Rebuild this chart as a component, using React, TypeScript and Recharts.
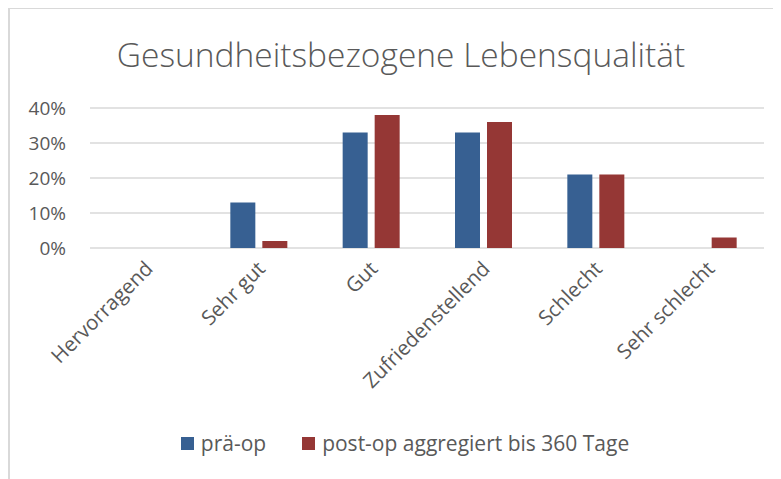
import React from 'react';
import { BarChart, Bar, XAxis, YAxis, CartesianGrid, Legend } from 'recharts';

const categories = ['Hervorragend', 'Sehr gut', 'Gut', 'Zufriedenstellend', 'Schlecht', 'Sehr schlecht'];
const praeOp = [0, 13, 33, 33, 21, 0];
const postOp = [0, 2, 38, 36, 21, 3];
const yTicks = [0, 10, 20, 30, 40];

const seriesNames = ['prä-op', 'post-op aggregiert bis 360 Tage'];
const colors = ['#376092', '#953735'];

const data = categories.map((name, i) => ({
  name,
  pre: praeOp[i],
  post: postOp[i],
}));

const font = '"Open Sans", "Liberation Sans", sans-serif';
const textColor = '#595959';

const XTick = (props: any) => {
  const { x, y, payload } = props;
  return (
    <g transform={`translate(${x + 8},${y + 14})`}>
      <text
        textAnchor="end"
        transform="rotate(-45)"
        fill={textColor}
        fontSize={20.5}
        fontFamily={font}
      >
        {payload.value}
      </text>
    </g>
  );
};

const LegendContent = () => (
  <div
    style={{
      display: 'flex',
      justifyContent: 'center',
      alignItems: 'center',
      height: 30,
      fontFamily: font,
      fontSize: 21,
      color: textColor,
      paddingLeft: 36,
    }}
  >
    {seriesNames.map((n, i) => (
      <div key={n} style={{ display: 'flex', alignItems: 'center', marginLeft: i ? 36 : 0 }}>
        <span style={{ width: 13, height: 13, background: colors[i], marginRight: 7, display: 'inline-block' }} />
        <span>{n}</span>
      </div>
    ))}
  </div>
);

export default function App() {
  return (
    <div
      style={{
        position: 'relative',
        width: 790,
        height: 480,
        borderTop: '1px solid #d9d9d9',
        borderLeft: '2px solid #d9d9d9',
        boxSizing: 'border-box',
      }}
    >
      <div
        style={{
          position: 'absolute',
          top: 22,
          left: 0,
          width: 782,
          textAlign: 'center',
          fontFamily: font,
          fontSize: 33.5,
          color: textColor,
          fontWeight: 300,
        }}
      >
        Gesundheitsbezogene Lebensqualität
      </div>
      <BarChart
        width={772}
        height={470}
        data={data}
        margin={{ top: 99, right: 18, bottom: 21, left: 0 }}
        barSize={25}
        barGap={7}
      >
        <CartesianGrid vertical={false} stroke="#d9d9d9" strokeWidth={1.5} />
        <XAxis
          dataKey="name"
          interval={0}
          height={180}
          axisLine={false}
          tickLine={false}
          tick={<XTick />}
        />
        <YAxis
          width={80}
          domain={[0, 40]}
          ticks={yTicks}
          axisLine={false}
          tickLine={false}
          tickMargin={18}
          tickFormatter={(v) => `${v}%`}
          tick={{ fill: textColor, fontSize: 19, fontFamily: font }}
        />
        <Legend verticalAlign="bottom" height={30} content={<LegendContent />} />
        <Bar dataKey="pre" name={seriesNames[0]} fill={colors[0]} isAnimationActive={false} />
        <Bar dataKey="post" name={seriesNames[1]} fill={colors[1]} isAnimationActive={false} />
      </BarChart>
    </div>
  );
}
